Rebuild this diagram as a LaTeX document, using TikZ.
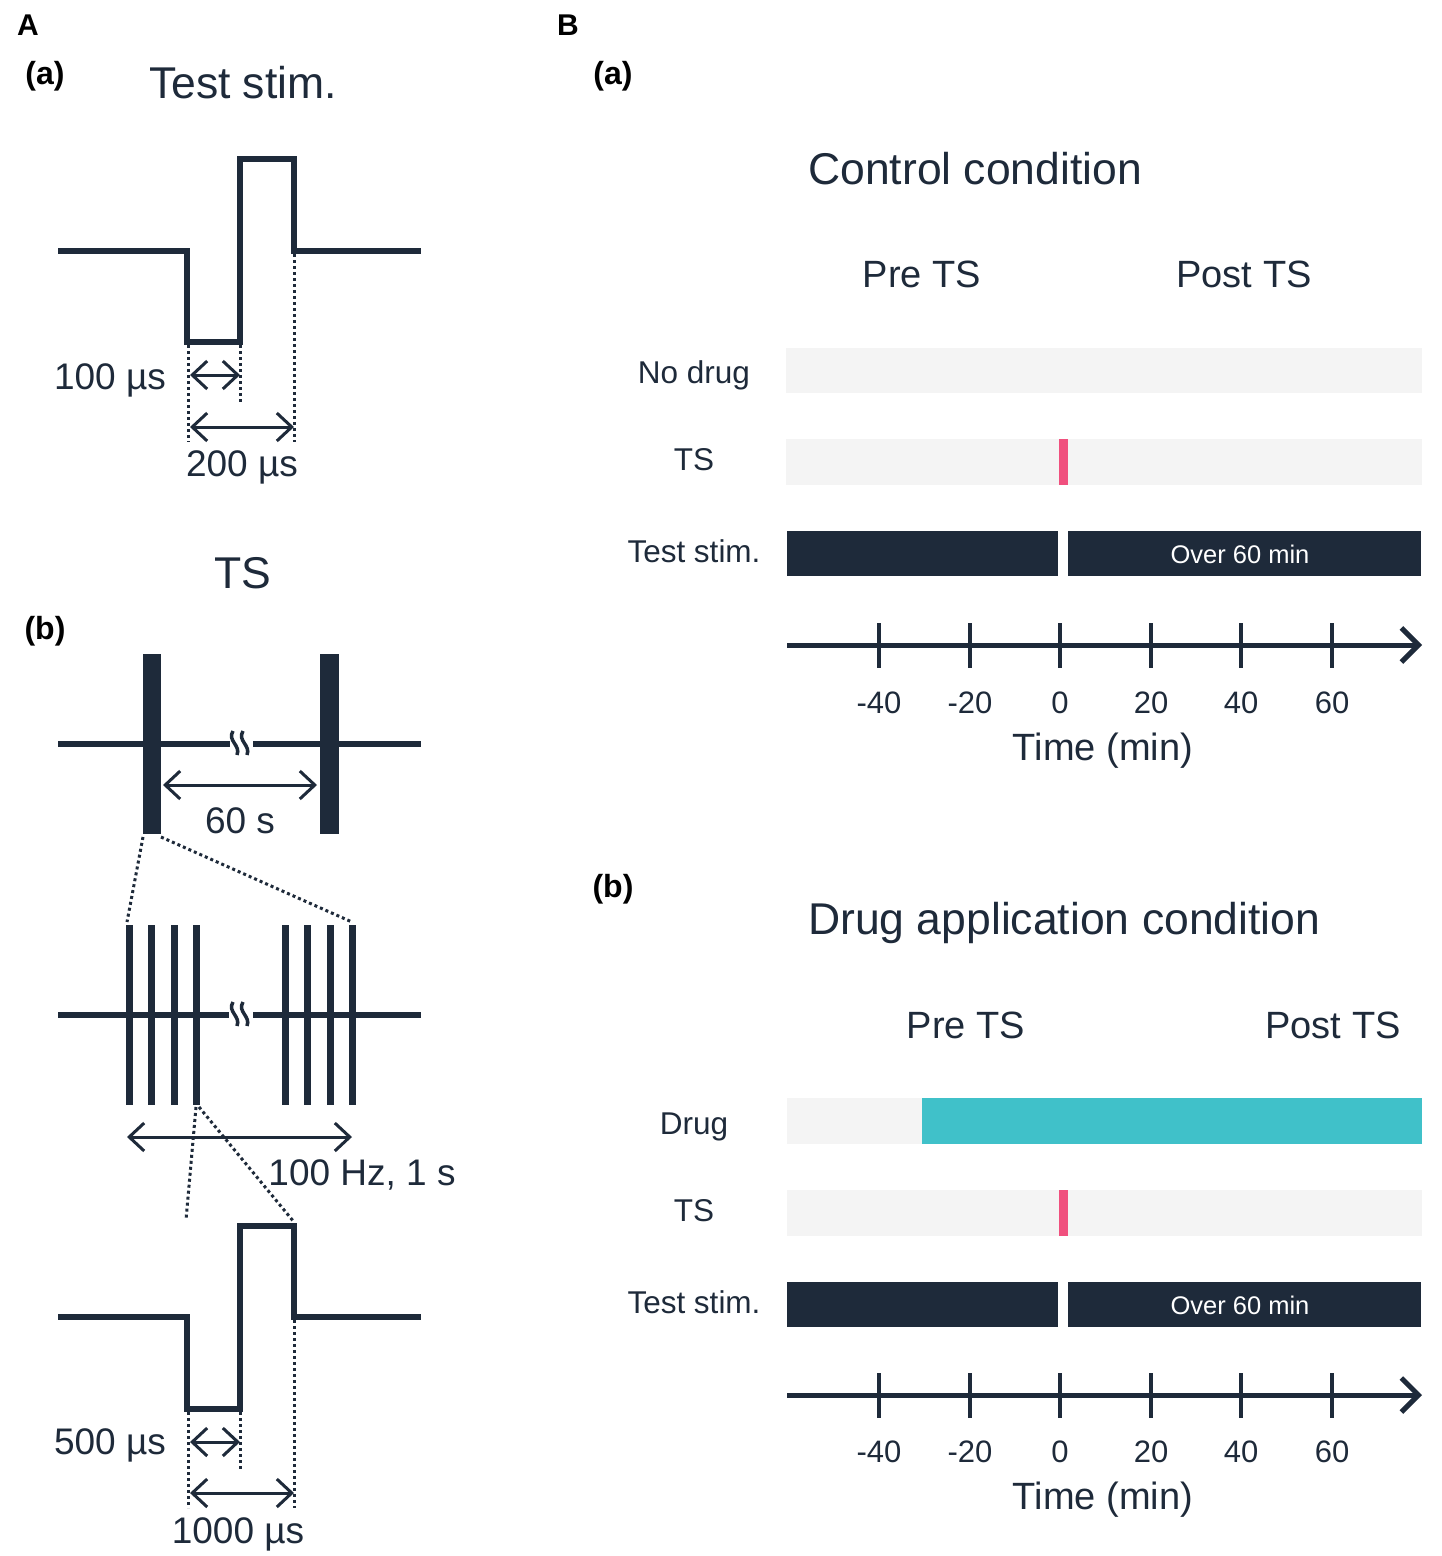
\documentclass[tikz,border=0pt]{standalone}
\usepackage{fontspec}
\setmainfont{Liberation Sans}
\usetikzlibrary{arrows.meta}
\definecolor{navy}{HTML}{1E2A3A}
\definecolor{lightbar}{HTML}{F4F4F4}
\definecolor{pinkmark}{HTML}{F0507E}
\definecolor{drugteal}{HTML}{40C1C9}
\newcommand\setfs[1]{\fontsize{#1}{#1}\selectfont}
\tikzset{
  wave/.style={line width=6.5pt, draw=navy},
  dotln/.style={line width=3pt, draw=navy, dash pattern=on 3pt off 3pt},
  dimarrow/.style={line width=3pt, draw=navy, {Straight Barb[length=15pt,width=28pt]}-{Straight Barb[length=15pt,width=28pt]}},
  lbl/.style={anchor=base, inner sep=0pt, text=navy},
  panellbl/.style={anchor=base, inner sep=0pt, text=black, font=\bfseries\setfs{32}},
  bigtitle/.style={lbl, font=\setfs{44.5}},
  dimlbl/.style={lbl, font=\setfs{37}},
  rowlbl/.style={lbl, font=\setfs{31.5}},
  ticklbl/.style={lbl, font=\setfs{31}},
  axlbl/.style={lbl, font=\setfs{38}},
  breakmark/.pic={
    \draw[line width=3.5pt, navy] (-8,-12) .. controls (-14,-2) and (0,2) .. (-4,12);
    \draw[line width=3.5pt, navy] (2,-12) .. controls (-4,-2) and (10,2) .. (6,12);
  },
  axisarrow/.style={line width=5pt, draw=navy, -{Straight Barb[length=17pt,width=34pt]}},
  tickln/.style={line width=4pt, draw=navy},
}
\begin{document}
\begin{tikzpicture}[x=1pt,y=-1pt]
\useasboundingbox[fill=white] (0,0) rectangle (1441,1556);

% ---------------- Panel A ----------------
\node[anchor=base, inner sep=0pt, font=\bfseries\setfs{30}] (labA) at (28,35) {A};
\node[panellbl] (Aa) at (45,84) {(a)};
\node[bigtitle] (titleTest) at (243,98) {Test stim.};

% test stimulus waveform
\draw[wave] (58,251) -- (187,251) -- (187,342) -- (240,342) -- (240,159) -- (294,159) -- (294,251) -- (421,251);
\coordinate (a1) at (188,345); \coordinate (a1b) at (188,442);
\coordinate (a2) at (240,345); \coordinate (a2b) at (240,403);
\coordinate (a3) at (294,254); \coordinate (a3b) at (294,442);
\draw[dotln] (a1) -- (a1b);
\draw[dotln] (a2) -- (a2b);
\draw[dotln] (a3) -- (a3b);
\coordinate (d1l) at (190,375); \coordinate (d1r) at (240,375);
\coordinate (d2l) at (190,427); \coordinate (d2r) at (294,427);
\draw[dimarrow] (d1l) -- (d1r);
\draw[dimarrow] (d2l) -- (d2r);
\node[dimlbl] (l100) at (110,389) {100 µs};
\node[dimlbl] (l200) at (242,476) {200 µs};

% TS
\node[bigtitle] (titleTS) at (243,588) {TS};
\node[panellbl] (Ab) at (45,639) {(b)};

\draw[wave] (58,744) -- (230,744);
\draw[wave] (253,744) -- (421,744);
\pic at (241,743) {breakmark};
\fill[navy] (143,654) rectangle (161,834);
\fill[navy] (320,654) rectangle (339,834);
\coordinate (b1bl) at (143,837); \coordinate (b1br) at (161,837);
\draw[dimarrow] (163,785) -- (317,785);
\node[dimlbl] (l60) at (240,833) {60 s};

% pulse train
\draw[wave] (58,1015) -- (229,1015);
\draw[wave] (253,1015) -- (421,1015);
\pic at (241,1014) {breakmark};
\foreach \x in {129,151,174,196,285,307,330,352}
  \draw[line width=7pt, navy] (\x,925) -- (\x,1105);
\coordinate (p1t) at (127,922); \coordinate (p8t) at (352,922);
\draw[dotln] (b1bl) -- (p1t);
\draw[dotln] (b1br) -- (p8t);
\draw[dimarrow] (127,1137) -- (352,1137);
\node[dimlbl] (l100hz) at (362,1185) {100 Hz, 1 s};

% single pulse of TS
\draw[wave] (58,1317) -- (187,1317) -- (187,1409) -- (240,1409) -- (240,1226) -- (294,1226) -- (294,1317) -- (421,1317);
\coordinate (p4b) at (196,1107); \coordinate (p4c) at (199,1107);
\coordinate (wl) at (186,1220); \coordinate (wr) at (294,1222);
\draw[dotln] (p4b) -- (wl);
\draw[dotln] (p4c) -- (wr);
\draw[dotln] (188,1412) -- (188,1508);
\draw[dotln] (240,1412) -- (240,1470);
\draw[dotln] (294,1320) -- (294,1508);
\draw[dimarrow] (190,1442) -- (240,1442);
\draw[dimarrow] (190,1493) -- (294,1493);
\node[dimlbl] (l500) at (110,1454) {500 µs};
\node[dimlbl] (l1000) at (238,1543) {1000 µs};

% ---------------- Panel B ----------------
\node[anchor=base, inner sep=0pt, font=\bfseries\setfs{30}] (labB) at (568,35) {B};

% (a) control
\node[panellbl] (Ba) at (613,84) {(a)};
\node[bigtitle, anchor=base west] (ctrl) at (808,184) {Control condition};
\node[axlbl] (preA) at (922,287) {Pre TS};
\node[axlbl] (postA) at (1244,287) {Post TS};

\node[rowlbl] (nodrug) at (694,383) {No drug};
\node[rowlbl] (tsA) at (694,470) {TS};
\node[rowlbl] (testA) at (694,562) {Test stim.};

\fill[lightbar] (786,348) rectangle (1422,393);
\fill[lightbar] (786,439) rectangle (1422,485);
\fill[pinkmark] (1059,439) rectangle (1068,485);
\fill[navy] (787,531) rectangle (1058,576);
\fill[navy] (1068,531) rectangle (1421,576);
\node[anchor=base, inner sep=0pt, text=white, font=\setfs{25.5}] (overA) at (1240,563) {Over 60 min};

\coordinate (axAs) at (787,645); \coordinate (axAe) at (1422,645);
\draw[axisarrow] (axAs) -- (axAe);
\foreach \x/\t in {879/-40,970/-20,1060/0,1151/20,1241/40,1332/60}{
  \draw[tickln] (\x,623) -- (\x,668);
  \node[ticklbl] at (\x,713) {\t};
}
\node[axlbl] (timeA) at (1103,760) {Time (min)};

% (b) drug application
\node[panellbl] (Bb) at (613,897) {(b)};
\node[bigtitle, anchor=base west] (drugc) at (808,934) {Drug application condition};
\node[axlbl] (preB) at (966,1038) {Pre TS};
\node[axlbl] (postB) at (1333,1038) {Post TS};

\node[rowlbl] (drug) at (694,1134) {Drug};
\node[rowlbl] (tsB) at (694,1221) {TS};
\node[rowlbl] (testB) at (694,1313) {Test stim.};

\fill[lightbar] (787,1098) rectangle (922,1144);
\fill[drugteal] (922,1098) rectangle (1422,1144);
\fill[lightbar] (787,1190) rectangle (1422,1236);
\fill[pinkmark] (1059,1190) rectangle (1068,1236);
\fill[navy] (787,1282) rectangle (1058,1327);
\fill[navy] (1068,1282) rectangle (1421,1327);
\node[anchor=base, inner sep=0pt, text=white, font=\setfs{25.5}] (overB) at (1240,1314) {Over 60 min};

\coordinate (axBs) at (787,1395); \coordinate (axBe) at (1422,1395);
\draw[axisarrow] (axBs) -- (axBe);
\foreach \x/\t in {879/-40,970/-20,1060/0,1151/20,1241/40,1332/60}{
  \draw[tickln] (\x,1373) -- (\x,1418);
  \node[ticklbl] at (\x,1462) {\t};
}
\node[axlbl] (timeB) at (1103,1509) {Time (min)};
\end{tikzpicture}
\end{document}
